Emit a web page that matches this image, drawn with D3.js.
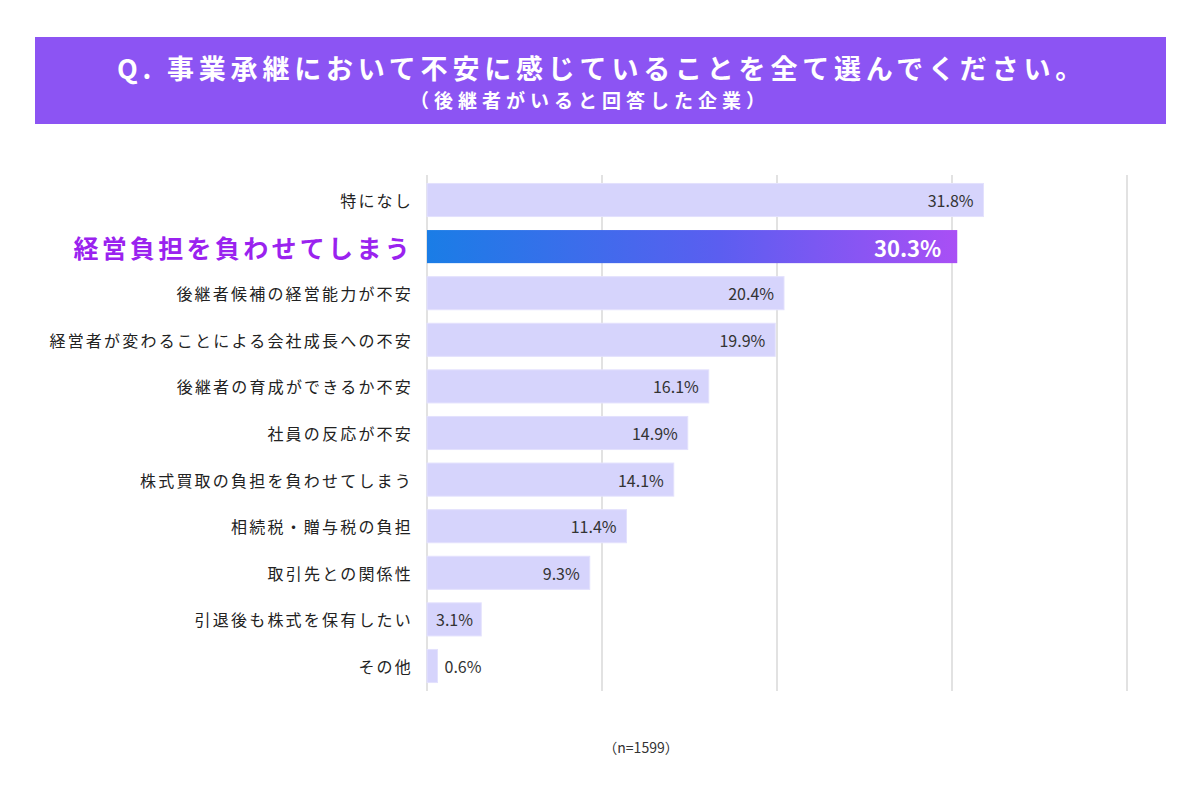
<!DOCTYPE html>
<html lang="ja">
<head>
<meta charset="utf-8">
<script src="https://cdn.jsdelivr.net/npm/d3@7"></script>
<style>
    body { margin: 0; background: #fff; }
    svg { display: block; font-family: "Noto Sans CJK JP", "Noto Sans", sans-serif; }
</style>
</head>
<body>
<div id="chart"></div>
<script>
// Data
const categories = [
    "特になし",
    "経営負担を負わせてしまう",
    "後継者候補の経営能力が不安",
    "経営者が変わることによる会社成長への不安",
    "後継者の育成ができるか不安",
    "社員の反応が不安",
    "株式買取の負担を負わせてしまう",
    "相続税・贈与税の負担",
    "取引先との関係性",
    "引退後も株式を保有したい",
    "その他"
];
const values = [31.8, 30.3, 20.4, 19.9, 16.1, 14.9, 14.1, 11.4, 9.3, 3.1, 0.6];
const highlighted = "経営負担を負わせてしまう";
const gridTicks = [0, 10, 20, 30, 40];
const titleText = "Q. 事業承継において不安に感じていることを全て選んでください。";
const subtitleText = "（後継者がいると回答した企業）";
const noteText = "（n=1599）";

const data = categories.map((c, i) => ({ category: c, value: values[i] }));

const width = 1200, height = 786;

const svg = d3.select("#chart")
    .append("svg")
    .attr("width", width)
    .attr("height", height);

// Gradient for the highlighted bar
const defs = svg.append("defs");
const grad = defs.append("linearGradient")
    .attr("id", "hl")
    .attr("x1", "0%").attr("x2", "100%")
    .attr("y1", "0%").attr("y2", "0%");
grad.append("stop").attr("offset", "0%").attr("stop-color", "#1a7de6");
grad.append("stop").attr("offset", "55%").attr("stop-color", "#5b5ef0");
grad.append("stop").attr("offset", "100%").attr("stop-color", "#a94ff5");

// Title box
svg.append("rect")
    .attr("x", 35).attr("y", 37)
    .attr("width", 1131).attr("height", 87)
    .attr("fill", "#8c54f3");

svg.append("text")
    .attr("x", 602).attr("y", 67)
    .attr("text-anchor", "middle")
    .attr("dominant-baseline", "central")
    .attr("fill", "#fff")
    .attr("font-size", 27)
    .attr("font-weight", 700)
    .attr("letter-spacing", 4.8)
    .text(titleText);

svg.append("text")
    .attr("x", 590).attr("y", 99)
    .attr("text-anchor", "middle")
    .attr("dominant-baseline", "central")
    .attr("fill", "#fff")
    .attr("font-size", 19)
    .attr("font-weight", 700)
    .attr("letter-spacing", 5)
    .text(subtitleText);

// Scales
const x = d3.scaleLinear()
    .domain([0, 40])
    .range([427, 1127]);

const y = d3.scaleBand()
    .domain(categories)
    .range([176.7, 689.3])
    .paddingInner(0.29)
    .paddingOuter(0.145);

// Gridlines
svg.append("g")
    .selectAll("line")
    .data(gridTicks)
    .join("line")
    .attr("x1", d => x(d)).attr("x2", d => x(d))
    .attr("y1", 175).attr("y2", 691)
    .attr("stroke", "#e2e2e2")
    .attr("stroke-width", 2);

// Bars
svg.append("g")
    .selectAll("rect")
    .data(data)
    .join("rect")
    .attr("x", x(0))
    .attr("y", d => y(d.category))
    .attr("width", d => x(d.value) - x(0))
    .attr("height", y.bandwidth())
    .attr("fill", d => d.category === highlighted ? "url(#hl)" : "#d6d4fc")
    .attr("stroke", d => d.category === highlighted ? "none" : "#e3e1fd")
    .attr("stroke-width", 1);

// Category labels
svg.append("g")
    .selectAll("text")
    .data(data)
    .join("text")
    .attr("x", 413)
    .attr("y", d => y(d.category) + y.bandwidth() / 2)
    .attr("text-anchor", "end")
    .attr("dominant-baseline", "central")
    .attr("fill", d => d.category === highlighted ? "#9a22ef" : "#222")
    .attr("font-size", d => d.category === highlighted ? 25 : 16)
    .attr("font-weight", d => d.category === highlighted ? 700 : 400)
    .attr("letter-spacing", d => d.category === highlighted ? 3.3 : 2.2)
    .text(d => d.category);

// Value labels
svg.append("g")
    .selectAll("text")
    .data(data)
    .join("text")
    .attr("x", d => {
        if (d.category === highlighted) return x(d.value) - 16;
        if (d.value < 1) return x(d.value) + 7;
        if (d.value < 5) return x(0) + 9;
        return x(d.value) - 10;
    })
    .attr("y", d => y(d.category) + y.bandwidth() / 2)
    .attr("text-anchor", d => d.value < 5 ? "start" : "end")
    .attr("dominant-baseline", "central")
    .attr("fill", d => d.category === highlighted ? "#fff" : "#333")
    .attr("font-size", d => d.category === highlighted ? 22 : 16)
    .attr("font-weight", d => d.category === highlighted ? 700 : 400)
    .text(d => d.value.toFixed(1) + "%");

// Footnote
svg.append("text")
    .attr("x", 641).attr("y", 747)
    .attr("text-anchor", "middle")
    .attr("dominant-baseline", "central")
    .attr("fill", "#333")
    .attr("font-size", 14)
    .text(noteText);
</script>
</body>
</html>
